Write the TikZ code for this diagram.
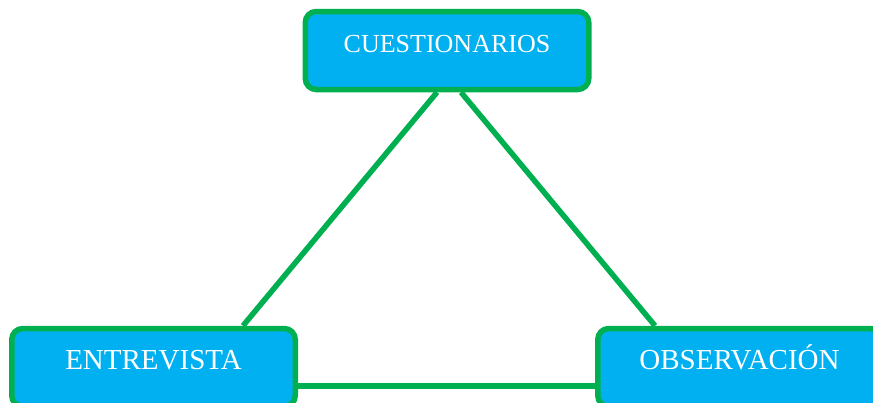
\documentclass[tikz,border=0pt]{standalone}
\usepackage{fontspec}
\setmainfont{Liberation Serif}
\usetikzlibrary{backgrounds,calc}
\definecolor{azul}{HTML}{00B0F0}
\definecolor{verde}{HTML}{00B050}
\begin{document}
\begin{tikzpicture}[x=1pt,y=1pt,line width=5.5pt]
\def\W{283.5}
\def\H{78}
\useasboundingbox (0,0) rectangle (873,-402);
\tikzset{caja/.style={draw=verde,fill=azul,rounded corners=11pt,minimum width=\W pt,minimum height=\H pt,
	text=white,text height=0.8em,text depth=0.5em,inner sep=0pt},
	enlace/.style={draw=verde,line width=5.5pt}}
\node[caja,font=\fontsize{26}{30}\selectfont] (cues) at (447,-50.5) {CUESTIONARIOS};
\node[caja,font=\fontsize{29}{34}\selectfont] (entr) at (153.5,-367.5) {ENTREVISTA};
\node[caja,font=\fontsize{29}{34}\selectfont] (obs) at (739.5,-367.5) {OBSERVACIÓN};
\begin{scope}[on background layer]
\draw[enlace] ($(cues.south)+(-10,0)$) -- ($(entr.north)+(89.5,0)$);
\draw[enlace] ($(cues.south)+(14,0)$) -- ($(obs.north)+(-84.5,0)$);
\draw[enlace] ($(entr.center)+(0,-18.5)$) -- ($(obs.center)+(0,-18.5)$);
\end{scope}
\end{tikzpicture}
\end{document}
